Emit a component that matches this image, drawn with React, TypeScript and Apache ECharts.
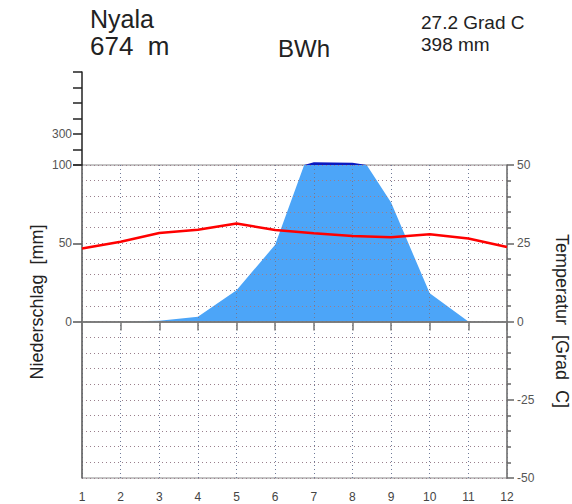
import React, { useEffect, useRef } from "react";
import * as echarts from "echarts";

const months = [1, 2, 3, 4, 5, 6, 7, 8, 9, 10, 11, 12];
const precipitation = [0, 0, 0.5, 3, 20, 49, 117, 114, 76, 18, 0, 0];
const temperature = [23.3, 25.5, 28.3, 29.3, 31.3, 29.2, 28.2, 27.3, 26.9, 27.9, 26.5, 23.8];
const stationName = "Nyala";
const elevationText = "674  m";
const climateClass = "BWh";
const meanTempText = "27.2 Grad C";
const totalPrecipText = "398 mm";
const precipTitle = "Niederschlag  [mm]";
const tempTitle = "Temperatur  [Grad  C]";

const FONT = "Liberation Sans, Arial, sans-serif";

export default function App() {
  const ref = useRef<HTMLDivElement>(null);
  useEffect(() => {
    if (!ref.current) return;
    const chart = echarts.init(ref.current, null, { renderer: "svg" });
    const dotH = { show: true, lineStyle: { color: "#9a7f8c", type: [1, 3], width: 1 } };
    chart.setOption({
      animation: false,
      backgroundColor: "#ffffff",
      textStyle: { fontFamily: FONT },
      grid: [
        { left: 82, right: 65, top: 165, bottom: 26, show: true, borderColor: "#8a8a8a", borderWidth: 1, backgroundColor: "transparent" },
        { left: 82, right: 65, top: 72, height: 93 },
      ],
      xAxis: [
        {
          gridIndex: 0, type: "value", min: 1, max: 12, interval: 1, z: 5,
          axisLine: { lineStyle: { color: "#777", width: 1.5 } },
          axisTick: { length: 9, lineStyle: { color: "#777", width: 1.5 } },
          axisLabel: { margin: 13, color: "#444", fontSize: 12, fontFamily: FONT },
          splitLine: { show: true, lineStyle: { color: "#6f7a98", type: [1, 3], width: 1 } },
        },
        { gridIndex: 1, type: "value", min: 1, max: 12, show: false },
      ],
      yAxis: [
        {
          gridIndex: 0, type: "value", position: "left", min: -100, max: 100, interval: 50, z: 5,
          axisLine: { show: true, lineStyle: { color: "#666", width: 1.5 } },
          axisTick: { show: true, length: 9, customValues: [0, 50, 100], lineStyle: { color: "#555", width: 1.5 } },
          axisLabel: { margin: 10, color: "#555", fontSize: 12, fontFamily: FONT, customValues: [0, 50, 100] },
          splitLine: { show: false },
        },
        {
          gridIndex: 0, type: "value", position: "right", min: -50, max: 50, interval: 25, z: 5,
          axisLine: { show: true, lineStyle: { color: "#777", width: 1.5 } },
          axisTick: { show: true, length: 7, lineStyle: { color: "#666", width: 1.5 } },
          minorTick: { show: true, splitNumber: 5, length: 4, lineStyle: { color: "#666", width: 1.5 } },
          axisLabel: { margin: 10, color: "#555", fontSize: 12, fontFamily: FONT },
          splitLine: dotH,
          minorSplitLine: dotH,
        },
        {
          gridIndex: 1, type: "value", position: "left", min: 100, max: 700, interval: 100, z: 5,
          axisLine: { show: true, lineStyle: { color: "#222", width: 1.5 } },
          axisTick: { show: true, length: 9, lineStyle: { color: "#222", width: 1.5 } },
          axisLabel: { margin: 10, color: "#555", fontSize: 12, fontFamily: FONT, formatter: (v: number) => (v === 300 ? "300" : "") },
          splitLine: { show: false },
        },
      ],
      series: [
        {
          type: "line", xAxisIndex: 0, yAxisIndex: 0, z: 1,
          data: months.map((m, i) => [m, precipitation[i]]),
          symbol: "none", lineStyle: { width: 0 },
          areaStyle: { color: "#4ca5f8", opacity: 1 },
        },
        {
          type: "line", xAxisIndex: 1, yAxisIndex: 2, z: 6, clip: true,
          data: months.map((m, i) => [m, precipitation[i]]),
          symbol: "none", lineStyle: { width: 0 },
          areaStyle: { color: "#0a18c0", opacity: 1, origin: "start" },
        },
        {
          type: "line", xAxisIndex: 0, yAxisIndex: 1, z: 8,
          data: months.map((m, i) => [m, temperature[i]]),
          symbol: "none", lineStyle: { color: "#ff0000", width: 2.5 },
          markLine: {
            silent: true, symbol: "none", label: { show: false },
            lineStyle: { color: "#777", type: "solid", width: 1.5 },
            data: [{ yAxis: 0 }],
          },
        },
      ],
      graphic: [
        { type: "text", left: 90, top: 6, style: { text: stationName, fontSize: 25, lineHeight: 25, fontFamily: FONT, fill: "#222" } },
        { type: "text", left: 90, top: 33, style: { text: elevationText, fontSize: 26, lineHeight: 26, fontFamily: FONT, fill: "#222" } },
        { type: "text", left: 278, top: 36, style: { text: climateClass, fontSize: 24, lineHeight: 24, fontFamily: FONT, fill: "#222" } },
        { type: "text", left: 421, top: 13, style: { text: meanTempText, fontSize: 19, lineHeight: 19, fontFamily: FONT, fill: "#222" } },
        { type: "text", left: 421, top: 35, style: { text: totalPrecipText, fontSize: 19, lineHeight: 19, fontFamily: FONT, fill: "#222" } },
        {
          type: "text", x: 37, y: 302, rotation: Math.PI / 2,
          style: { text: precipTitle, fontSize: 18, fontFamily: FONT, fill: "#222", align: "center", verticalAlign: "middle" },
        },
        {
          type: "text", x: 562, y: 321, rotation: -Math.PI / 2,
          style: { text: tempTitle, fontSize: 18, fontFamily: FONT, fill: "#222", align: "center", verticalAlign: "middle" },
        },
      ],
    });
    return () => chart.dispose();
  }, []);
  return <div ref={ref} style={{ width: 572, height: 504, position: "absolute", left: 0, top: 0 }} />;
}
